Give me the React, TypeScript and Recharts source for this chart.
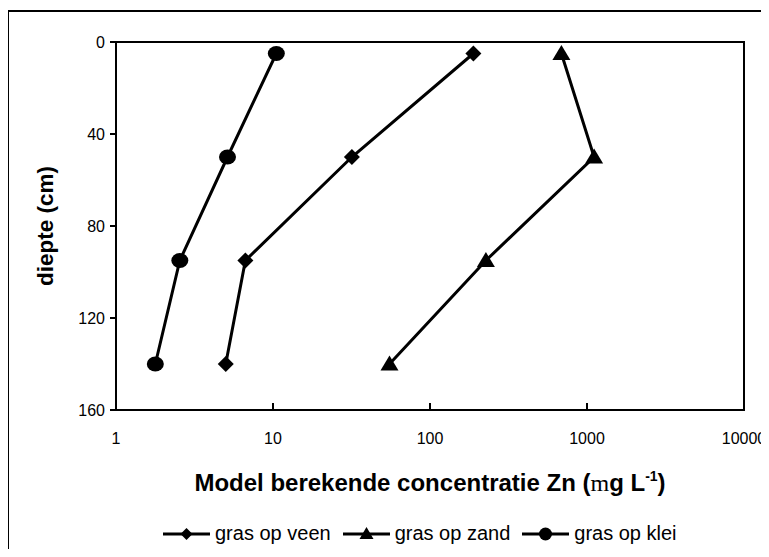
import React from 'react';
import { ScatterChart, Scatter, XAxis, YAxis, ReferenceArea, Label } from 'recharts';

const depths = [5, 50, 95, 140];
const veen = [189, 31.8, 6.67, 5.0];
const zand = [687, 1110, 227, 55.2];
const klei = [10.5, 5.13, 2.55, 1.78];
const xTicks = [1, 10, 100, 1000, 10000];
const yTicks = [0, 40, 80, 120, 160];
const seriesNames = ['gras op veen', 'gras op zand', 'gras op klei'];

const FONT = '"Liberation Sans", Arial, sans-serif';

const toPoints = (vals: number[]) => vals.map((v, i) => ({ x: v, y: depths[i] }));

const Diamond = (p: any) => {
  const { cx, cy } = p;
  if (cx == null || cy == null) return null;
  return <path d={`M${cx},${cy - 8}L${cx + 8},${cy}L${cx},${cy + 8}L${cx - 8},${cy}Z`} fill="#000" />;
};
const Triangle = (p: any) => {
  const { cx, cy } = p;
  if (cx == null || cy == null) return null;
  return <path d={`M${cx},${cy - 8.5}L${cx + 9},${cy + 6.5}L${cx - 9},${cy + 6.5}Z`} fill="#000" />;
};
const Dot = (p: any) => {
  const { cx, cy } = p;
  if (cx == null || cy == null) return null;
  return <ellipse cx={cx} cy={cy} rx={8.5} ry={7.5} fill="#000" />;
};

const LegendBlock = () => (
  <div style={{ position: 'absolute', left: 163, top: 522, display: 'flex', alignItems: 'center', fontFamily: FONT, fontSize: 20, color: '#000', whiteSpace: 'nowrap' }}>
    {seriesNames.map((n, i) => (
      <div key={n} style={{ display: 'flex', alignItems: 'center', marginRight: 12 }}>
        <svg width={47} height={20} style={{ marginRight: 5 }}>
          <line x1={0} y1={10} x2={47} y2={10} stroke="#000" strokeWidth={3} />
          {i === 0 && <path d="M23.5,4L29.5,10L23.5,16L17.5,10Z" fill="#000" />}
          {i === 1 && <path d="M23.5,3L30.5,15L16.5,15Z" fill="#000" />}
          {i === 2 && <circle cx={23.5} cy={10} r={6.5} fill="#000" />}
        </svg>
        <span>{n}</span>
      </div>
    ))}
  </div>
);

const XTitle = (props: any) => {
  const vb = props.viewBox || {};
  const cx = vb.x + vb.width / 2;
  return (
    <text x={cx} y={491} textAnchor="middle" fontFamily={FONT} fontSize={24} fontWeight="bold" fill="#000">
      <tspan>Model berekende concentratie Zn (</tspan>
      <tspan fontFamily='"Liberation Serif", serif' fontWeight="normal">m</tspan>
      <tspan>g L</tspan>
      <tspan fontSize={14} dy={-10}>-1</tspan>
      <tspan dy={10}>)</tspan>
    </text>
  );
};

const YTitle = (props: any) => {
  const vb = props.viewBox || {};
  const cy = vb.y + vb.height / 2;
  return (
    <text x={0} y={0} transform={`translate(53, ${cy}) rotate(-90)`} textAnchor="middle" fontFamily={FONT} fontSize={22.5} fontWeight="bold" fill="#000">
      diepte (cm)
    </text>
  );
};

export default function App() {
  return (
    <div style={{ position: 'relative', width: 769, height: 557, margin: -8, overflow: 'hidden', background: '#fff' }}>
      <div style={{ position: 'absolute', left: 7, top: 10, width: 800, height: 600, border: '2px solid #000', boxSizing: 'border-box' }} />
      <div style={{ position: 'absolute', left: 0, top: 0 }}>
        <ScatterChart width={769} height={557} margin={{ top: 42, right: 25, bottom: 117, left: 56 }} style={{ overflow: 'visible' }}>
          <XAxis
            dataKey="x"
            type="number"
            scale="log"
            domain={[1, 10000]}
            ticks={xTicks}
            allowDataOverflow
            interval={0}
            tickSize={-7}
            tickMargin={30}
            height={30}
            axisLine={{ stroke: '#000', strokeWidth: 2 }}
            tickLine={{ stroke: '#000', strokeWidth: 2 }}
            tick={{ fill: '#000', fontSize: 16, fontFamily: FONT }}
          >
            <Label content={<XTitle />} />
          </XAxis>
          <YAxis
            dataKey="y"
            type="number"
            domain={[0, 160]}
            ticks={yTicks}
            reversed
            interval={0}
            width={60}
            tickSize={6}
            tickMargin={5}
            axisLine={{ stroke: '#000', strokeWidth: 2 }}
            tickLine={{ stroke: '#000', strokeWidth: 2 }}
            tick={{ fill: '#000', fontSize: 16, fontFamily: FONT }}
          >
            <Label content={<YTitle />} />
          </YAxis>
          <ReferenceArea x1={1} x2={10000} y1={0} y2={160} fill="none" stroke="#000" strokeWidth={2} ifOverflow="visible" />
          <Scatter name={seriesNames[0]} data={toPoints(veen)} fill="#000" line={{ stroke: '#000', strokeWidth: 3 }} lineType="joint" shape={<Diamond />} isAnimationActive={false} />
          <Scatter name={seriesNames[1]} data={toPoints(zand)} fill="#000" line={{ stroke: '#000', strokeWidth: 3 }} lineType="joint" shape={<Triangle />} isAnimationActive={false} />
          <Scatter name={seriesNames[2]} data={toPoints(klei)} fill="#000" line={{ stroke: '#000', strokeWidth: 3 }} lineType="joint" shape={<Dot />} isAnimationActive={false} />
        </ScatterChart>
      </div>
      <LegendBlock />
    </div>
  );
}
